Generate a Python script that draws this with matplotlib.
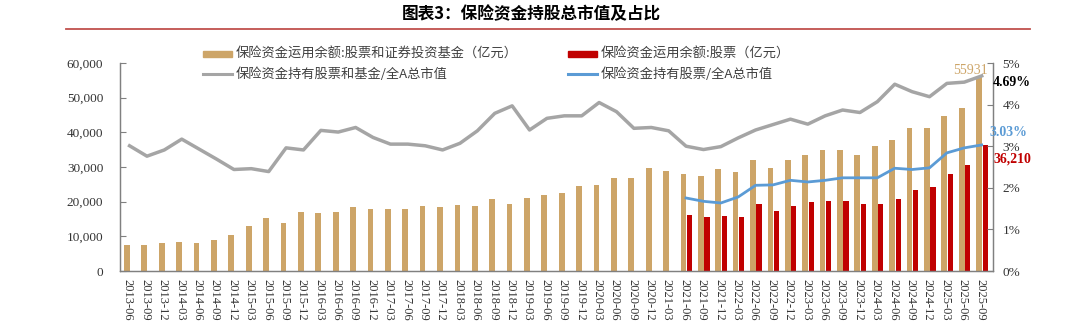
import numpy as np
import matplotlib
matplotlib.use("Agg")
import matplotlib.pyplot as plt
from matplotlib.patches import Rectangle
from matplotlib.lines import Line2D
import matplotlib.transforms as mtransforms

plt.rcParams['font.family'] = ['Noto Sans CJK SC', 'DejaVu Sans']

dates = ["2013-06", "2013-09", "2013-12", "2014-03", "2014-06", "2014-09", "2014-12",
         "2015-03", "2015-06", "2015-09", "2015-12", "2016-03", "2016-06", "2016-09",
         "2016-12", "2017-03", "2017-06", "2017-09", "2017-12", "2018-03", "2018-06",
         "2018-09", "2018-12", "2019-03", "2019-06", "2019-09", "2019-12", "2020-03",
         "2020-06", "2020-09", "2020-12", "2021-03", "2021-06", "2021-09", "2021-12",
         "2022-03", "2022-06", "2022-09", "2022-12", "2023-03", "2023-06", "2023-09",
         "2023-12", "2024-03", "2024-06", "2024-09", "2024-12", "2025-03", "2025-06",
         "2025-09"]

stock_fund = [7430, 7620, 8000, 8480, 8190, 8860, 10380, 13050, 15430, 13810,
              17050, 16860, 17050, 18380, 18000, 18000, 18000, 18860, 18380, 19050,
              18860, 20670, 19330, 21140, 22000, 22380, 24380, 24950, 26950, 26760,
              29810, 28760, 28000, 27430, 29520, 28570, 31900, 29810, 31900, 33430,
              34760, 34760, 33430, 36100, 37900, 41140, 41140, 44570, 46950, 55931]

stock_start = "2021-06"
stocks = [16190, 15520, 16000, 15710, 19240, 17430, 18860, 20000, 20100, 20100,
          19430, 19430, 20760, 23430, 24290, 28100, 30480, 36210]

ratio_stock_fund = [3.01, 2.76, 2.91, 3.17, 2.93, 2.69, 2.44, 2.46, 2.39, 2.96,
                    2.91, 3.38, 3.34, 3.45, 3.21, 3.05, 3.05, 3.01, 2.91, 3.07,
                    3.37, 3.79, 3.97, 3.39, 3.67, 3.73, 3.73, 4.05, 3.83, 3.43,
                    3.45, 3.37, 3.00, 2.92, 2.99, 3.20, 3.39, 3.52, 3.65, 3.53,
                    3.73, 3.87, 3.81, 4.07, 4.49, 4.31, 4.19, 4.51, 4.54, 4.69]

ratio_stock = [1.755, 1.675, 1.635, 1.78, 2.06, 2.07, 2.18, 2.14, 2.18, 2.24,
               2.24, 2.24, 2.47, 2.44, 2.48, 2.84, 2.96, 3.03]

labels = ["保险资金运用余额:股票和证券投资基金（亿元）",
          "保险资金持有股票和基金/全A总市值",
          "保险资金运用余额:股票（亿元）",
          "保险资金持有股票/全A总市值"]
title = "图表3：保险资金持股总市值及占比"

C_BEIGE = "#cda568"
C_RED = "#c00000"
C_GRAY = "#a5a5a5"
C_BLUE = "#5b9bd5"
C_TXT = "#404040"
SERIF = "Liberation Serif"

W, H = 1080, 328
fig = plt.figure(figsize=(W / 100, H / 100), dpi=100)

def fx(px):
    return px / W

def fy(py):
    return 1 - py / H

ax = fig.add_axes([fx(120), fy(271), fx(993) - fx(120), fy(63) - fy(271)])
ax2 = ax.twinx()

n = len(dates)
x = np.arange(n)
s0 = dates.index(stock_start)
xs = x[s0:]

ax.bar(x - 0.05, stock_fund, width=0.33, color=C_BEIGE, zorder=2)
ax.bar(xs + 0.30, stocks, width=0.30, color=C_RED, zorder=2)

ax2.plot(x + 0.1, ratio_stock_fund, color=C_GRAY, lw=2.5, solid_joinstyle='round', zorder=3)
ax2.plot(xs + 0.1, ratio_stock, color=C_BLUE, lw=2.0, solid_joinstyle='round', zorder=3)

ax.set_xlim(-0.45, n - 1 + 0.75)
ax.set_ylim(0, 60000)
ax2.set_ylim(0, 5)

ax.set_yticks(np.arange(0, 60001, 10000))
ax.set_yticklabels([f"{v:,}" for v in range(0, 60001, 10000)], fontfamily=SERIF,
                   fontsize=9.5, color="#333333")
ax2.set_yticks(np.arange(0, 6))
ax2.set_yticklabels([f"{v}%" for v in range(0, 6)], fontfamily=SERIF,
                    fontsize=9.5, color="#333333")

ax.set_xticks(x)
ax.set_xticklabels(dates, rotation=-90, fontfamily=SERIF, fontsize=9, color="#333333")
ax.tick_params(axis='x', length=0, pad=6)
ax.tick_params(axis='y', direction='in', length=4, color="#808080", pad=12)
ax2.tick_params(axis='y', direction='in', length=4, color="#808080", pad=7)

for a in (ax, ax2):
    a.spines['top'].set_visible(False)
    for s in ('left', 'right', 'bottom'):
        a.spines[s].set_color("#808080")
        a.spines[s].set_linewidth(0.9)

# annotations
ax.text(n - 1 + 0.45, 57900, "55931", ha='right', va='center', fontfamily=SERIF,
        fontsize=10, color=C_BEIGE)
trans = mtransforms.blended_transform_factory(ax2.transAxes, ax2.transData)
ax2.text(1.0, 4.54, "4.69%", ha='left', va='center', fontfamily=SERIF, fontsize=10,
         fontweight='bold', color="black", transform=trans)
ax2.text(0.9955, 3.34, "3.03%", ha='left', va='center', fontfamily=SERIF, fontsize=10,
         fontweight='bold', color=C_BLUE, transform=trans)
ax2.text(1.0, 2.69, "36,210", ha='left', va='center', fontfamily=SERIF, fontsize=10,
         fontweight='bold', color=C_RED, transform=trans)

# title and rule
fig.text(fx(531), fy(14), title, ha='center', va='center', fontsize=12,
         fontweight='bold', color="black")
fig.add_artist(Line2D([fx(66), fx(1030)], [fy(29), fy(29)], color="#c0504d", lw=1.3))

# legend (manual)
leg_font = 9.5
def patch_entry(x0, y0, color, text):
    fig.add_artist(Rectangle((fx(x0), fy(y0 + 3)), fx(29), fy(y0 - 3) - fy(y0 + 3),
                             color=color, transform=fig.transFigure))
    fig.text(fx(x0 + 33), fy(y0), text, ha='left', va='center', fontsize=leg_font,
             color=C_TXT)

def line_entry(x0, y0, color, text):
    fig.add_artist(Line2D([fx(x0), fx(x0 + 29)], [fy(y0), fy(y0)], color=color, lw=2.2))
    fig.text(fx(x0 + 33), fy(y0), text, ha='left', va='center', fontsize=leg_font,
             color=C_TXT)

patch_entry(203, 54, C_BEIGE, labels[0])
line_entry(203, 74, C_GRAY, labels[1])
patch_entry(568, 54, C_RED, labels[2])
line_entry(568, 74, C_BLUE, labels[3])

fig.savefig("out.png", dpi=100)
